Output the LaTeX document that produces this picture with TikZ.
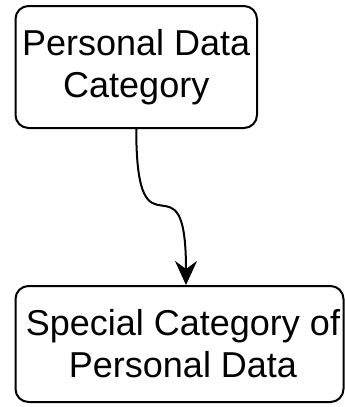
\documentclass[tikz,border=0pt]{standalone}
\usepackage{fontspec}
\setmainfont{Liberation Sans}
\usetikzlibrary{arrows.meta}
\begin{document}
\begin{tikzpicture}[x=1pt,y=-1pt,
  box/.style={draw=black, line width=2pt, rounded corners=13pt, align=center,
    inner sep=0pt, font=\fontsize{36}{42}\selectfont, fill=white},
  link/.style={draw=black, line width=2pt, -{Stealth[length=24pt,width=22pt,inset=8pt]}}]
\useasboundingbox (0,0) rectangle (345,407);
\node[box, minimum width=241.5pt, minimum height=122pt] (top) at (136.25,67) {Personal Data\\Category};
\node[box, minimum width=328pt, minimum height=116pt] (bot) at (179.5,344) {\hspace*{7pt}Special Category of\\\hspace*{7pt}Personal Data};
\draw[link] (top.south) .. controls +(0,142) and +(0,-141) .. ([xshift=6.5pt]bot.north);
\end{tikzpicture}
\end{document}
